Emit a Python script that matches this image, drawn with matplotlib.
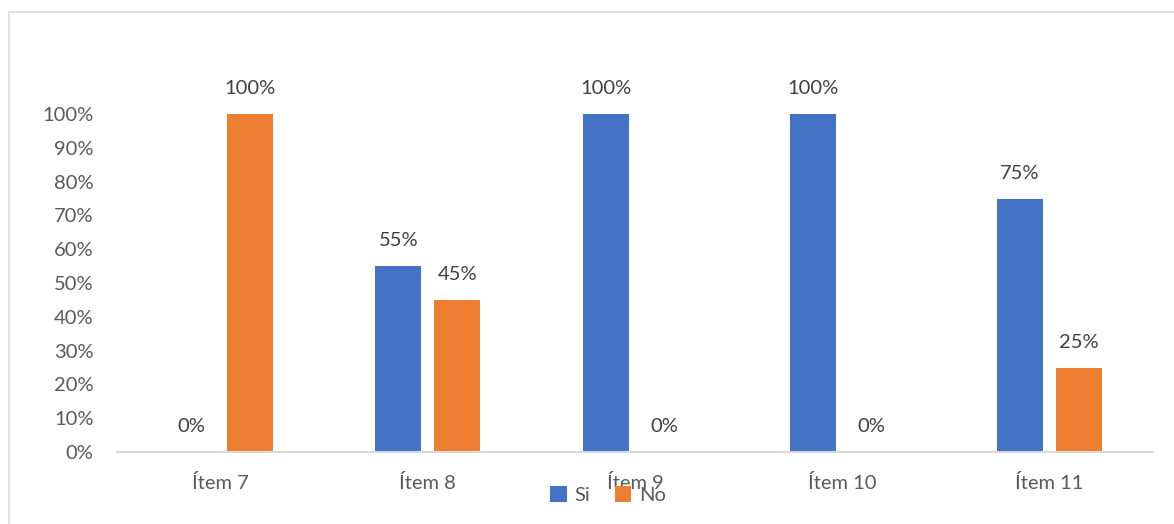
import matplotlib.pyplot as plt
from matplotlib.patches import Rectangle
import numpy as np

categories = ['Ítem 7', 'Ítem 8', 'Ítem 9', 'Ítem 10', 'Ítem 11']
si_values = [0, 55, 100, 100, 75]
no_values = [100, 45, 0, 0, 25]
yticks = [0, 10, 20, 30, 40, 50, 60, 70, 80, 90, 100]
series_names = ['Si', 'No']

blue = '#4472C4'
orange = '#ED7D31'
txt = '#595959'

plt.rcParams['font.family'] = ['Lato', 'DejaVu Sans']

W, H = 1174, 524
fig = plt.figure(figsize=(W / 100, H / 100), dpi=100)
ax = fig.add_axes([117 / W, 1 - 452 / H, (1153 - 117) / W, (452 - 114) / H])

x = np.arange(len(categories))
bw = 0.222
off = 0.142
b1 = ax.bar(x - off, si_values, bw, color=blue, label=series_names[0])
b2 = ax.bar(x + off, no_values, bw, color=orange, label=series_names[1])

for bars in (b1, b2):
    for r in bars:
        ax.annotate('%d%%' % r.get_height(), (r.get_x() + r.get_width() / 2, r.get_height()),
                    xytext=(0, 12), textcoords='offset points', ha='center', va='bottom',
                    fontsize=14.5, color='#404040', annotation_clip=False)

ax.set_xlim(-0.5, len(categories) - 0.5)
ax.set_ylim(0, 100)
ax.set_yticks(yticks)
ax.set_yticklabels(['%d%%' % v for v in yticks])
ax.set_xticks(x)
ax.set_xticklabels(categories)
ax.tick_params(axis='y', length=0, pad=17, labelsize=14.5, labelcolor=txt)
ax.tick_params(axis='x', length=0, pad=16, labelsize=14.5, labelcolor=txt)
for s in ['top', 'right', 'left']:
    ax.spines[s].set_visible(False)
ax.spines['bottom'].set_color('#D9D9D9')
ax.spines['bottom'].set_linewidth(1.5)

leg = fig.legend(loc='center', bbox_to_anchor=(608 / W, 1 - 495 / H), ncol=2, frameon=False,
                 fontsize=14.5, handlelength=0.8, handleheight=0.8, handletextpad=0.4,
                 columnspacing=1.2)
for t in leg.get_texts():
    t.set_color(txt)

# chart border
fig.patches.append(Rectangle((9 / W, -0.1), 1.2, 1.1 - 12 / H, transform=fig.transFigure,
                             fill=False, edgecolor='#D9D9D9', linewidth=1.2))

fig.savefig('out.png', dpi=100, facecolor='white')
